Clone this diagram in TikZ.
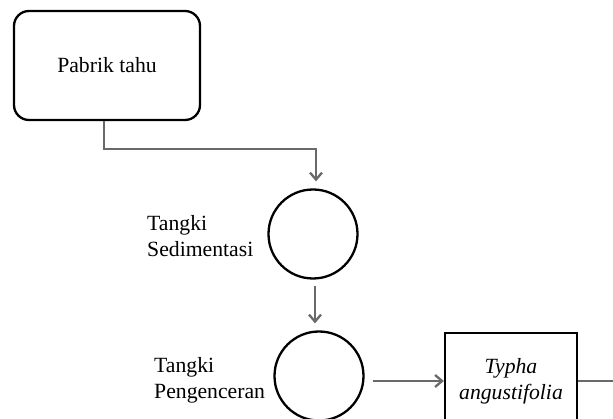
\documentclass[tikz,border=0pt]{standalone}
\usepackage{fontspec}
\setmainfont{Liberation Serif}
\usetikzlibrary{arrows.meta,calc}
\definecolor{flowgray}{RGB}{105,105,105}
\begin{document}
\begin{tikzpicture}[x=1pt,y=-1pt,
  every node/.style={font=\fontsize{21.7}{26}\selectfont},
  outline/.style={draw=black,line width=2.3pt},
  flow/.style={draw=flowgray,line width=2.3pt,-{Straight Barb[length=7pt,width=12pt,line width=2.3pt]}},
  plainflow/.style={draw=flowgray,line width=2.3pt},
  tank/.style={outline,circle,minimum size=89pt,inner sep=0pt},
  label/.style={align=left,anchor=west,inner sep=0pt}]
\useasboundingbox (0,0) rectangle (613,419);
\clip (0,0) rectangle (613,419);
\fill[white] (0,0) rectangle (613,419);

\node[outline,rounded corners=15pt,minimum width=186pt,minimum height=109pt] (tahu) at (107,65.5) {Pabrik tahu};
\node[tank] (c1) at (313,234) {};
\node[tank] (c2) at (319,376) {};
\node[outline,minimum width=132pt,minimum height=96pt,align=center,inner sep=0pt] (box) at (511,381) {\itshape Typha\\\itshape angustifolia};
\node[label] (l1) at (147,236) {Tangki\\Sedimentasi};
\node[label] (l2) at (154,380) {Tangki\\Pengenceran};
\coordinate (out) at (613,381);

\draw[flow] ([xshift=-3pt]tahu.south) -- ++(0,28) -| ([xshift=3pt,yshift=7pt]c1.north);
\draw[flow] ([xshift=2pt,yshift=-6pt]c1.south) -- ($(c2.north)+(-4,-7)$);
\draw[flow] ($(c2.east |- box.west)+(8,0)$) -- (box.west);
\draw[plainflow] (box.east) -- (out);
\end{tikzpicture}
\end{document}
